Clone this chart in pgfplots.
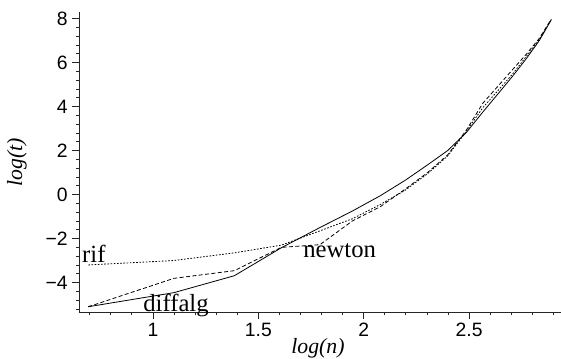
\documentclass[border=0pt]{standalone}
\usepackage{fontspec}
\setmainfont{Liberation Sans}
\newfontfamily\tms{Liberation Serif}
\usepackage{pgfplots}
\pgfplotsset{compat=1.18}
\usetikzlibrary{calc}
\begin{document}
\begin{tikzpicture}
\begin{axis}[name=ax, scale only axis, width=361.5pt, height=225pt,
  xmin=0.649, xmax=2.936, ymin=-5.34, ymax=8.3,
  axis lines=left, axis line style={-, black!85, line width=0.6pt},
  xtick={1,1.5,2,2.5}, xticklabels={1,1.5,2,2.5},
  ytick={-4,-2,0,2,4,6,8}, yticklabels={−4,−2,0,2,4,6,8},
  minor xtick={0.7,0.8,0.9,1.1,1.2,1.3,1.4,1.6,1.7,1.8,1.9,2.1,2.2,2.3,2.4,2.6,2.7,2.8,2.9},
  minor ytick={-5.2,-4.8,-4.4,-3.6,-3.2,-2.8,-2.4,-1.6,-1.2,-0.8,-0.4,0.4,0.8,1.2,1.6,2.4,2.8,3.2,3.6,4.4,4.8,5.2,5.6,6.4,6.8,7.2,7.6},
  tick align=outside, major tick length=5pt, minor tick length=2.5pt,
  tick style={black!85, line width=0.6pt},
  tick label style={font=\fontsize{14.5}{14.5}\selectfont},
  /pgf/number format/assume math mode=true,
  clip=false]
\addplot[black, line width=0.6pt] coordinates {
(0.693,-5.1) (1.099,-4.46) (1.386,-3.69) (1.609,-2.42) (1.792,-1.5) (1.946,-0.75)
(2.079,-0.05) (2.197,0.65) (2.303,1.35) (2.398,2.0) (2.485,2.8) (2.565,3.75)
(2.639,4.6) (2.708,5.4) (2.773,6.2) (2.833,7.0) (2.890,7.95)};
\addplot[black, line width=0.6pt, dash pattern=on 3pt off 1.8pt] coordinates {
(0.693,-5.1) (1.099,-3.81) (1.386,-3.46) (1.609,-2.4) (1.792,-2.28) (1.946,-1.2)
(2.079,-0.55) (2.197,0.25) (2.303,1.0) (2.398,1.8) (2.485,2.9) (2.565,4.15)
(2.639,4.95) (2.708,5.7) (2.773,6.4) (2.833,7.1) (2.890,7.98)};
\addplot[black, line width=0.6pt, dash pattern=on 1.2pt off 1.2pt] coordinates {
(0.693,-3.2) (1.099,-3.0) (1.386,-2.65) (1.609,-2.3) (1.792,-1.65) (1.946,-1.1)
(2.079,-0.45) (2.197,0.2) (2.303,0.95) (2.398,1.75) (2.485,2.85) (2.565,3.95)
(2.639,4.75) (2.708,5.5) (2.773,6.3) (2.833,7.05) (2.890,7.95)};
\node[anchor=base west, inner sep=0pt, font=\fontsize{18.5}{18.5}\tms] at (axis cs:0.663,-3.11) {rif};
\node[anchor=base west, inner sep=0pt, font=\fontsize{18.5}{18.5}\tms] at (axis cs:0.953,-5.33) {diffalg};
\node[anchor=base west, inner sep=0pt, font=\fontsize{18.5}{18.5}\tms] at (axis cs:1.712,-2.84) {newton};
\node[anchor=base, inner sep=0pt, font=\fontsize{16.3}{16.3}\tms\itshape, yshift=-30.75pt] at (axis cs:1.783,-5.34) {log(n)};
\node[anchor=center, inner sep=0pt, font=\fontsize{16.3}{16.3}\tms\itshape, xshift=-46.5pt, rotate=90] at (rel axis cs:0,0.5) {log(t)};
\end{axis}
\pgfresetboundingbox
\path ($(ax.south west)+(-59.25pt,-34.5pt)$) rectangle ($(ax.north east)+(0,9pt)$);
\end{tikzpicture}
\end{document}
